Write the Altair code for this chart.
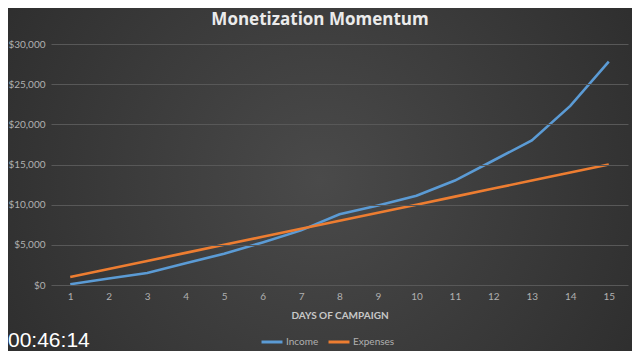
import altair as alt
import pandas as pd

days = list(range(1, 16))
income = [100, 800, 1500, 2700, 3900, 5300, 6800, 8800, 9900, 11100, 13000, 15500, 18000, 22300, 27800]
expenses = [1000, 2000, 3000, 4000, 5000, 6000, 7000, 8000, 9000, 10000, 11000, 12000, 13000, 14000, 15000]
series = ["Income", "Expenses"]
colors = ["#5b9bd5", "#ed7d31"]
title_text = "Monetization Momentum"
stamp_text = "00:46:14"

rows = []
for d, i, e in zip(days, income, expenses):
    rows.append({"day": d, "series": "Income", "value": i})
    rows.append({"day": d, "series": "Expenses", "value": e})
df = pd.DataFrame(rows)

W, H = 577, 241
PL, PT, PR, PB = 43, 36, 4, 66

bg = alt.Chart(alt.Data(values=[{"a": 1}])).mark_rect(
    fill={
        "gradient": "radial",
        "x1": 0.5, "y1": 0.5, "r1": 0,
        "x2": 0.5, "y2": 0.5, "r2": 0.75,
        "stops": [
            {"offset": 0, "color": "#4a4a4a"},
            {"offset": 1, "color": "#262626"},
        ],
    }
).encode(
    x=alt.value(-PL), x2=alt.value(W + PR),
    y=alt.value(-PT), y2=alt.value(H + PB),
)

lines = alt.Chart(df).mark_line(strokeWidth=2.6).encode(
    x=alt.X("day:O", sort=days, scale=alt.Scale(paddingInner=1, paddingOuter=0.5),
            axis=alt.Axis(title="DAYS OF CAMPAIGN", labelAngle=0, grid=False, domain=False,
                          ticks=False, labelColor="#b0b0b0", labelFontSize=10, labelPadding=6,
                          titleColor="#c8c8c8", titleFontSize=10, titleFontWeight="bold",
                          titlePadding=9, labelFont="Lato", titleFont="Lato",
                          zindex=1)),
    y=alt.Y("value:Q", scale=alt.Scale(domain=[0, 30000]),
            axis=alt.Axis(title=None, values=[0, 5000, 10000, 15000, 20000, 25000, 30000],
                          format="$,.0f", domain=False, ticks=False, gridColor="#585858",
                          gridWidth=1, labelColor="#b0b0b0", labelFontSize=10, labelPadding=6,
                          labelFont="Lato", zindex=1)),
    color=alt.Color("series:N", scale=alt.Scale(domain=series, range=colors),
                    legend=alt.Legend(title=None, orient="none", direction="horizontal",
                                      legendX=209, legendY=286, symbolType="stroke",
                                      symbolStrokeWidth=3, symbolSize=440, columnPadding=3,
                                      labelColor="#b0b0b0", labelFontSize=10,
                                      labelFont="Lato", labelOffset=2, zindex=1)),
    order=alt.Order("day:O"),
)

stamp = alt.Chart(alt.Data(values=[{"t": stamp_text}])).mark_text(
    align="left", baseline="middle", color="#ffffff", fontSize=21, font="Liberation Sans"
).encode(x=alt.value(-PL), y=alt.value(297), text="t:N")

title = alt.Chart(alt.Data(values=[{"t": title_text}])).mark_text(
    align="center", baseline="middle", color="#ebebeb", fontSize=17, font="Open Sans",
    fontWeight="bold"
).encode(x=alt.value(269), y=alt.value(-24), text="t:N")

chart = alt.layer(bg, lines, stamp, title).properties(
    width=W, height=H,
    autosize=alt.AutoSizeParams(type="none"),
    padding={"left": PL, "top": PT, "right": PR, "bottom": PB},
    background="#2c2c2c",
).configure_view(stroke=None)

chart.save("out.html", embed_options={"renderer": "svg", "actions": False})
